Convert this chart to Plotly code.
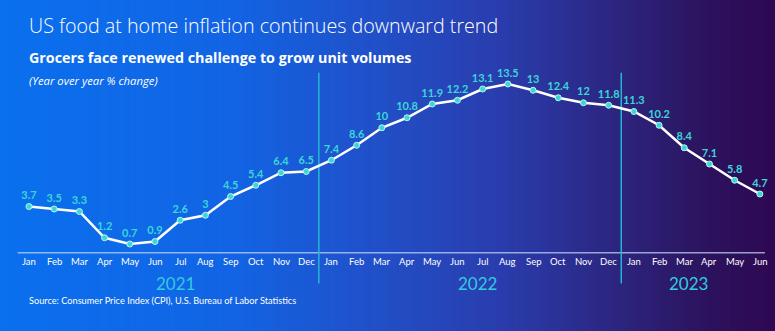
import plotly.graph_objects as go

months = ["Jan","Feb","Mar","Apr","May","Jun","Jul","Aug","Sep","Oct","Nov","Dec",
          "Jan","Feb","Mar","Apr","May","Jun","Jul","Aug","Sep","Oct","Nov","Dec",
          "Jan","Feb","Mar","Apr","May","Jun"]
values = [3.7,3.5,3.3,1.2,0.7,0.9,2.6,3.0,4.5,5.4,6.4,6.5,
          7.4,8.6,10.0,10.8,11.9,12.2,13.1,13.5,13.0,12.4,12.0,11.8,
          11.3,10.2,8.4,7.1,5.8,4.7]
labels = ["3.7","3.5","3.3","1.2","0.7","0.9","2.6","3","4.5","5.4","6.4","6.5",
          "7.4","8.6","10","10.8","11.9","12.2","13.1","13.5","13","12.4","12","11.8",
          "11.3","10.2","8.4","7.1","5.8","4.7"]
years = ["2021","2022","2023"]
year_pos = [5.8, 17.8, 26.15]
dividers = [11.5, 23.5]

x = list(range(len(values)))

CYAN = "#3cd6d8"
fig = go.Figure()

# background gradient strips
stops = [(0.0,(10,112,238)),(0.3,(18,100,228)),(0.5,(34,78,198)),(0.65,(42,60,172)),
         (0.78,(44,40,132)),(0.9,(44,20,96)),(1.0,(46,8,82))]
def col(t):
    for i in range(len(stops)-1):
        a,ca = stops[i]; b,cb = stops[i+1]
        if a <= t <= b:
            f = (t-a)/(b-a)
            return "rgb(%d,%d,%d)" % tuple(round(ca[k]+(cb[k]-ca[k])*f) for k in range(3))
    return "rgb(46,8,82)"
N = 160
shapes = []
for i in range(N):
    shapes.append(dict(type="rect", xref="paper", yref="paper", x0=i/N, x1=(i+1)/N+0.002,
                       y0=0, y1=1, fillcolor=col((i+0.5)/N), line=dict(width=0), layer="below"))
# axis baseline
shapes.append(dict(type="line", xref="x", yref="y", x0=-0.45, x1=29.2, y0=0, y1=0,
                   line=dict(color="rgba(190,210,245,0.75)", width=1.5), layer="below"))
for d in dividers:
    shapes.append(dict(type="line", xref="x", yref="y", x0=d, x1=d, y0=-2.45, y1=14.4,
                       line=dict(color="#22b8d4", width=1.5), layer="below"))

fig.add_trace(go.Scatter(x=x, y=values, mode="lines+markers+text", text=labels,
                         textposition="top center",
                         textfont=dict(family="Lato", size=11, color=CYAN, weight="bold"),
                         line=dict(color="white", width=2.5),
                         marker=dict(color=CYAN, size=6, line=dict(color="#b8f4f0", width=1)),
                         hoverinfo="skip", cliponaxis=False))

annotations = []
for i, m in enumerate(months):
    annotations.append(dict(x=i, y=-0.72, xref="x", yref="y", text=m, showarrow=False,
                            font=dict(family="Lato", size=9.5, color="white")))
for yv, p in zip(years, year_pos):
    annotations.append(dict(x=p, y=-2.42, xref="x", yref="y", text=yv, showarrow=False,
                            font=dict(family="Lato", size=17, color="#30cce0", weight=400)))
annotations += [
    dict(x=27/775, y=1-25/331, xref="paper", yref="paper", xanchor="left", yanchor="middle",
         text="US food at home inflation continues downward trend", showarrow=False,
         font=dict(family="Open Sans", size=19.7, color="white", weight=300)),
    dict(x=27/775, y=1-57/331, xref="paper", yref="paper", xanchor="left", yanchor="middle",
         text="<b>Grocers face renewed challenge to grow unit volumes</b>", showarrow=False,
         font=dict(family="Open Sans", size=14.3, color="white")),
    dict(x=27/775, y=1-80/331, xref="paper", yref="paper", xanchor="left", yanchor="middle",
         text="<i>(Year over year % change)</i>", showarrow=False,
         font=dict(family="Open Sans", size=11.3, color="white")),
    dict(x=27/775, y=1-300/331, xref="paper", yref="paper", xanchor="left", yanchor="middle",
         text="Source: Consumer Price Index (CPI), U.S. Bureau of Labor Statistics", showarrow=False,
         font=dict(family="Lato", size=9.2, color="white")),
]

fig.update_layout(
    width=775, height=331, margin=dict(l=0, r=0, t=0, b=0),
    paper_bgcolor="#1565e0", plot_bgcolor="rgba(0,0,0,0)",
    showlegend=False, shapes=shapes, annotations=annotations,
    xaxis=dict(range=[-1.15, 29.6], visible=False, fixedrange=True),
    yaxis=dict(range=[-6.26, 20.22], visible=False, fixedrange=True),
)
fig.write_html("out.html")
